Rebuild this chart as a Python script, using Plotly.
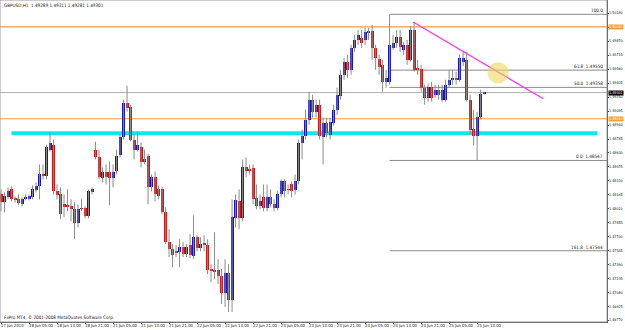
import plotly.graph_objects as go

# ---------------- data (GBPUSD H1) ----------------
opens = [1.48170,1.48082,1.48137,1.48226,1.48126,1.48115,1.48060,1.48126,1.48126,1.48137,
         1.48215,1.48259,1.48392,1.48370,1.48668,1.48724,1.48204,1.48170,1.48060,1.48049,
         1.48038,1.48004,1.47849,1.48016,1.48016,1.47927,1.48193,1.48658,1.48580,1.48348,
         1.48414,1.48414,1.48348,1.48425,1.48613,1.48813,1.49189,1.49145,1.48779,1.48668,
         1.48702,1.48558,1.48602,1.48248,1.48359,1.48226,1.48226,1.47971,1.47639,1.47561,
         1.47539,1.47528,1.47584,1.47506,1.47606,1.47484,1.47694,1.47573,1.47617,1.47606,
         1.47329,1.47329,1.47329,1.47263,1.47075,1.47296,1.46997,1.47905,1.48093,1.47905,
         1.48469,1.48447,1.48458,1.48126,1.48038,1.48137,1.48016,1.48137,1.48060,1.48016,
         1.48170,1.48314,1.48226,1.48281,1.48215,1.48314,1.48746,1.48824,1.49001,1.49222,
         1.49089,1.49167,1.48813,1.48967,1.48835,1.48967,1.49111,1.49266,1.49499,1.49643,
         1.49554,1.49798,1.49886,1.49908,1.49886,1.49975,1.49986,1.49798,1.49676,1.49609,
         1.49421,1.49421,1.49798,1.49853,1.49919,1.49775,1.49831,1.49665,1.49997,1.49576,
         1.49565,1.49355,1.49244,1.49366,1.49277,1.49333,1.49222,1.49222,1.49388,1.49443,
         1.49455,1.49443,1.49643,1.49665,1.49222,1.48901,1.48824,1.49034,1.49289]
highs = [1.48226,1.48193,1.48248,1.48259,1.48148,1.48170,1.48137,1.48170,1.48170,1.48270,
         1.48303,1.48503,1.48503,1.48724,1.48857,1.48779,1.48281,1.48248,1.48170,1.48226,
         1.48115,1.48082,1.48060,1.48115,1.48038,1.48226,1.48248,1.48757,1.48668,1.48469,
         1.48503,1.48536,1.48503,1.48668,1.48835,1.49222,1.49377,1.49167,1.48835,1.48868,
         1.48746,1.48668,1.48624,1.48392,1.48425,1.48270,1.48248,1.48027,1.47783,1.47617,
         1.47606,1.47672,1.47639,1.47617,1.47728,1.47938,1.47717,1.47694,1.47717,1.47672,
         1.47396,1.47750,1.47451,1.47340,1.47451,1.47396,1.48115,1.48170,1.48226,1.48558,
         1.48580,1.48503,1.48503,1.48281,1.48170,1.48281,1.48281,1.48226,1.48115,1.48204,
         1.48336,1.48336,1.48281,1.48314,1.48392,1.48779,1.48890,1.49111,1.49311,1.49277,
         1.49222,1.49222,1.49023,1.49023,1.49023,1.49167,1.49355,1.49554,1.49687,1.49720,
         1.49831,1.49942,1.49997,1.49997,1.50019,1.50019,1.50052,1.49831,1.49720,1.49665,
         1.49554,1.50170,1.49942,1.49997,1.49997,1.49864,1.49886,1.50041,1.50085,1.49665,
         1.49609,1.49388,1.49399,1.49421,1.49388,1.49388,1.49388,1.49443,1.49554,1.49554,
         1.49532,1.49720,1.49753,1.49753,1.49277,1.49111,1.49089,1.49333,1.49311]
lows = [1.47982,1.47971,1.48115,1.48093,1.48082,1.48049,1.48038,1.48104,1.48104,1.48115,
        1.48193,1.48115,1.48336,1.48336,1.48646,1.48170,1.48115,1.47894,1.47916,1.47982,
        1.47872,1.47672,1.47805,1.47982,1.47905,1.47905,1.48170,1.48558,1.48336,1.48303,
        1.48281,1.48049,1.48248,1.48392,1.48580,1.48779,1.49089,1.48757,1.48558,1.48646,
        1.48469,1.48503,1.48060,1.48204,1.48093,1.48115,1.47949,1.47617,1.47473,1.47362,
        1.47473,1.47362,1.47473,1.47473,1.47462,1.47451,1.47539,1.47539,1.47539,1.47285,
        1.47196,1.47229,1.47174,1.46953,1.46920,1.46864,1.46864,1.47805,1.47783,1.47872,
        1.48359,1.48392,1.48060,1.48004,1.48004,1.47982,1.47982,1.48027,1.47982,1.47993,
        1.48137,1.48137,1.48170,1.48137,1.48170,1.48281,1.48558,1.48779,1.48945,1.49023,
        1.49023,1.48779,1.48503,1.48802,1.48779,1.48934,1.49056,1.49222,1.49443,1.49466,
        1.49499,1.49753,1.49831,1.49798,1.49831,1.49886,1.49665,1.49554,1.49499,1.49311,
        1.49355,1.49388,1.49775,1.49798,1.49753,1.49720,1.49609,1.49643,1.49532,1.49499,
        1.49311,1.49167,1.49200,1.49200,1.49244,1.49222,1.49200,1.49200,1.49355,1.49388,
        1.49388,1.49421,1.49598,1.49200,1.48835,1.48713,1.48547,1.49001,1.49281]
closes = [1.48082,1.48148,1.48204,1.48115,1.48115,1.48071,1.48115,1.48137,1.48148,1.48226,
          1.48259,1.48392,1.48381,1.48691,1.48746,1.48204,1.48159,1.47949,1.48027,1.48038,
          1.48004,1.47849,1.48004,1.48010,1.47927,1.48204,1.48226,1.48580,1.48359,1.48414,
          1.48359,1.48348,1.48414,1.48602,1.48813,1.49189,1.49133,1.48779,1.48668,1.48724,
          1.48525,1.48525,1.48248,1.48359,1.48170,1.48148,1.47971,1.47639,1.47561,1.47495,
          1.47530,1.47584,1.47506,1.47584,1.47495,1.47694,1.47573,1.47617,1.47612,1.47329,
          1.47322,1.47318,1.47263,1.47075,1.47296,1.46997,1.47916,1.48104,1.47905,1.48469,
          1.48425,1.48440,1.48115,1.48038,1.48093,1.48016,1.48137,1.48060,1.48016,1.48170,
          1.48314,1.48204,1.48220,1.48204,1.48314,1.48746,1.48824,1.49001,1.49222,1.49089,
          1.49167,1.48824,1.48967,1.48857,1.48978,1.49111,1.49277,1.49499,1.49643,1.49554,
          1.49798,1.49886,1.49942,1.49853,1.49975,1.49970,1.49798,1.49687,1.49587,1.49421,
          1.49466,1.49831,1.49853,1.49919,1.49809,1.49831,1.49665,1.49997,1.49554,1.49554,
          1.49355,1.49244,1.49366,1.49244,1.49333,1.49277,1.49333,1.49388,1.49443,1.49466,
          1.49450,1.49687,1.49687,1.49222,1.48890,1.48824,1.49034,1.49289,1.49301]

x_label_bars = [0, 8, 16, 24, 32, 40, 48, 56, 64, 72, 80, 88, 96, 104, 112, 120, 128, 136]
x_labels = ["17 Jun 2010", "18 Jun 05:00", "18 Jun 13:00", "18 Jun 21:00", "21 Jun 05:00",
            "21 Jun 13:00", "21 Jun 21:00", "22 Jun 05:00", "22 Jun 13:00", "22 Jun 21:00",
            "23 Jun 05:00", "23 Jun 13:00", "23 Jun 21:00", "24 Jun 05:00", "24 Jun 13:00",
            "24 Jun 21:00", "25 Jun 05:00", "25 Jun 13:00"]
y_ticks = [1.46770, 1.46925, 1.47080, 1.47235, 1.47390, 1.47545, 1.47700, 1.47855, 1.48010,
           1.48165, 1.48320, 1.48475, 1.48630, 1.48785, 1.48940, 1.49095, 1.49250, 1.49405,
           1.49560, 1.49715, 1.49870, 1.50025, 1.50180]
y_tick_labels = ["%.5f" % v for v in y_ticks]

header_text = "GBPUSD,H1  1.49289 1.49311 1.49281 1.49301"
footer_text = "FxPro MT4, \u00a9 2001-2008 MetaQuotes Software Corp."

bid_price = 1.49301
orange_levels = [1.50030, 1.49010]
cyan_level = 1.48850
cyan_bars = [3, 170.3]
fib_high = 1.50170
fib_low = 1.48547
fib_start_bar = 111
fib_names = ["0.0", "50.0", "61.8", "100.0", "161.8"]
fib_mult = [0.0, 0.5, 0.618, 1.0, -0.618]
trend_bars = [117.7, 154.9]
trend_prices = [1.50085, 1.49233]
circle_bar = [142]
circle_price = [1.49521]

X_RANGE = [-0.29, 173.1]
Y_RANGE = [1.46753, 1.50329]
FONT = "Liberation Sans Narrow, DejaVu Sans Condensed, sans-serif"
FS = 4.6
FS_AX = 3.7

# ---------------- figure ----------------
fig = go.Figure()

wx, wy = [], []
for i, (h, l) in enumerate(zip(highs, lows)):
    wx += [i, i, None]
    wy += [l, h, None]
fig.add_trace(go.Scatter(x=wx, y=wy, mode="lines", line=dict(color="#8c8c8c", width=1),
                         hoverinfo="skip", showlegend=False))

MINH = 0.00009
up_x, up_b, up_h, dn_x, dn_b, dn_h = [], [], [], [], [], []
for i, (o, c) in enumerate(zip(opens, closes)):
    if c >= o:
        up_x.append(i); up_b.append(o); up_h.append(max(c - o, MINH))
    else:
        dn_x.append(i); dn_b.append(c); dn_h.append(max(o - c, MINH))
fig.add_trace(go.Bar(x=up_x, y=up_h, base=up_b, width=0.85,
                     marker=dict(color="#1414CC", line=dict(width=0)), showlegend=False))
fig.add_trace(go.Bar(x=dn_x, y=dn_h, base=dn_b, width=0.85,
                     marker=dict(color="#D41414", line=dict(width=0)), showlegend=False))

fig.add_trace(go.Scatter(x=trend_bars, y=trend_prices, mode="lines",
                         line=dict(color="#FF33FF", width=1.3), hoverinfo="skip", showlegend=False))
fig.add_trace(go.Scatter(x=circle_bar, y=circle_price, mode="markers",
                         marker=dict(size=21, color="rgba(238,215,90,0.6)", line=dict(width=0)),
                         hoverinfo="skip", showlegend=False))

shapes = []
shapes.append(dict(type="line", xref="paper", x0=0, x1=1, yref="y", y0=bid_price, y1=bid_price,
                   line=dict(color="#b0b0b0", width=1), layer="below"))
for lv in orange_levels:
    shapes.append(dict(type="line", xref="paper", x0=0, x1=1, yref="y", y0=lv, y1=lv,
                       line=dict(color="#F5A030", width=1.2), layer="below"))
shapes.append(dict(type="line", xref="x", x0=cyan_bars[0], x1=cyan_bars[1], yref="y",
                   y0=cyan_level, y1=cyan_level, line=dict(color="#10E8E8", width=4), layer="below"))

annotations = []
for name, m in zip(fib_names, fib_mult):
    p = fib_low + (fib_high - fib_low) * m
    shapes.append(dict(type="line", xref="x", x0=fib_start_bar, x1=X_RANGE[1], yref="y", y0=p, y1=p,
                       line=dict(color="#8a8a8a", width=1), layer="below"))
    txt = name if name == "100.0" else "%s  %.5f" % (name, p)
    annotations.append(dict(text=txt, xref="paper", x=0.997, xanchor="right", yref="y", y=p,
                            yanchor="bottom", yshift=-1, showarrow=False,
                            font=dict(family=FONT, size=FS, color="#222")))

shapes.append(dict(type="rect", xref="paper", yref="paper", x0=0, x1=1, y0=0, y1=1,
                   line=dict(color="#9a9a9a", width=1)))

for b, t in zip(x_label_bars, x_labels):
    annotations.append(dict(text=t, xref="x", x=b, xanchor="left", xshift=-1, yref="paper", y=0,
                            yanchor="top", yshift=0, showarrow=False, borderpad=0,
                            font=dict(family=FONT, size=4.2, color="#111")))
for v, t in zip(y_ticks, y_tick_labels):
    annotations.append(dict(text=t, xref="paper", x=1.0, xanchor="left", xshift=1, yref="y", y=v,
                            yanchor="middle", showarrow=False, borderpad=0,
                            font=dict(family=FONT, size=FS_AX, color="#111")))

for lv in orange_levels:
    annotations.append(dict(text="%.5f" % lv, xref="paper", x=1.0, xanchor="left", xshift=1,
                            yref="y", y=lv, showarrow=False, bgcolor="#F5A030", borderpad=0,
                            font=dict(family=FONT, size=FS_AX, color="white")))
annotations.append(dict(text="%.5f" % bid_price, xref="paper", x=1.0, xanchor="left", xshift=1,
                        yref="y", y=bid_price, showarrow=False, bgcolor="#000000", borderpad=0,
                        font=dict(family=FONT, size=FS_AX, color="white")))

annotations.append(dict(text=header_text, xref="paper", x=0.004, xanchor="left", yref="paper",
                        y=0.984, yanchor="middle", showarrow=False,
                        font=dict(family=FONT, size=FS, color="#111")))
annotations.append(dict(text=footer_text, xref="paper", x=0.004, xanchor="left", yref="paper",
                        y=0.014, yanchor="middle", showarrow=False,
                        font=dict(family=FONT, size=FS, color="#111")))

fig.update_layout(
    width=625, height=330,
    margin=dict(l=0, r=18, t=0, b=8, autoexpand=False),
    paper_bgcolor="white", plot_bgcolor="white",
    barmode="overlay", bargap=0, showlegend=False,
    shapes=shapes, annotations=annotations,
    xaxis=dict(range=X_RANGE, tickvals=x_label_bars, showticklabels=False,
               ticks="outside", ticklen=1, tickcolor="#444",
               showgrid=False, zeroline=False, showline=True, linecolor="#444", linewidth=1,
               fixedrange=True),
    yaxis=dict(range=Y_RANGE, side="right", tickvals=y_ticks, showticklabels=False,
               ticks="outside", ticklen=1, tickcolor="#444",
               showgrid=False, zeroline=False, showline=True, linecolor="#444", linewidth=1,
               fixedrange=True),
)

fig.write_html("out.html")
